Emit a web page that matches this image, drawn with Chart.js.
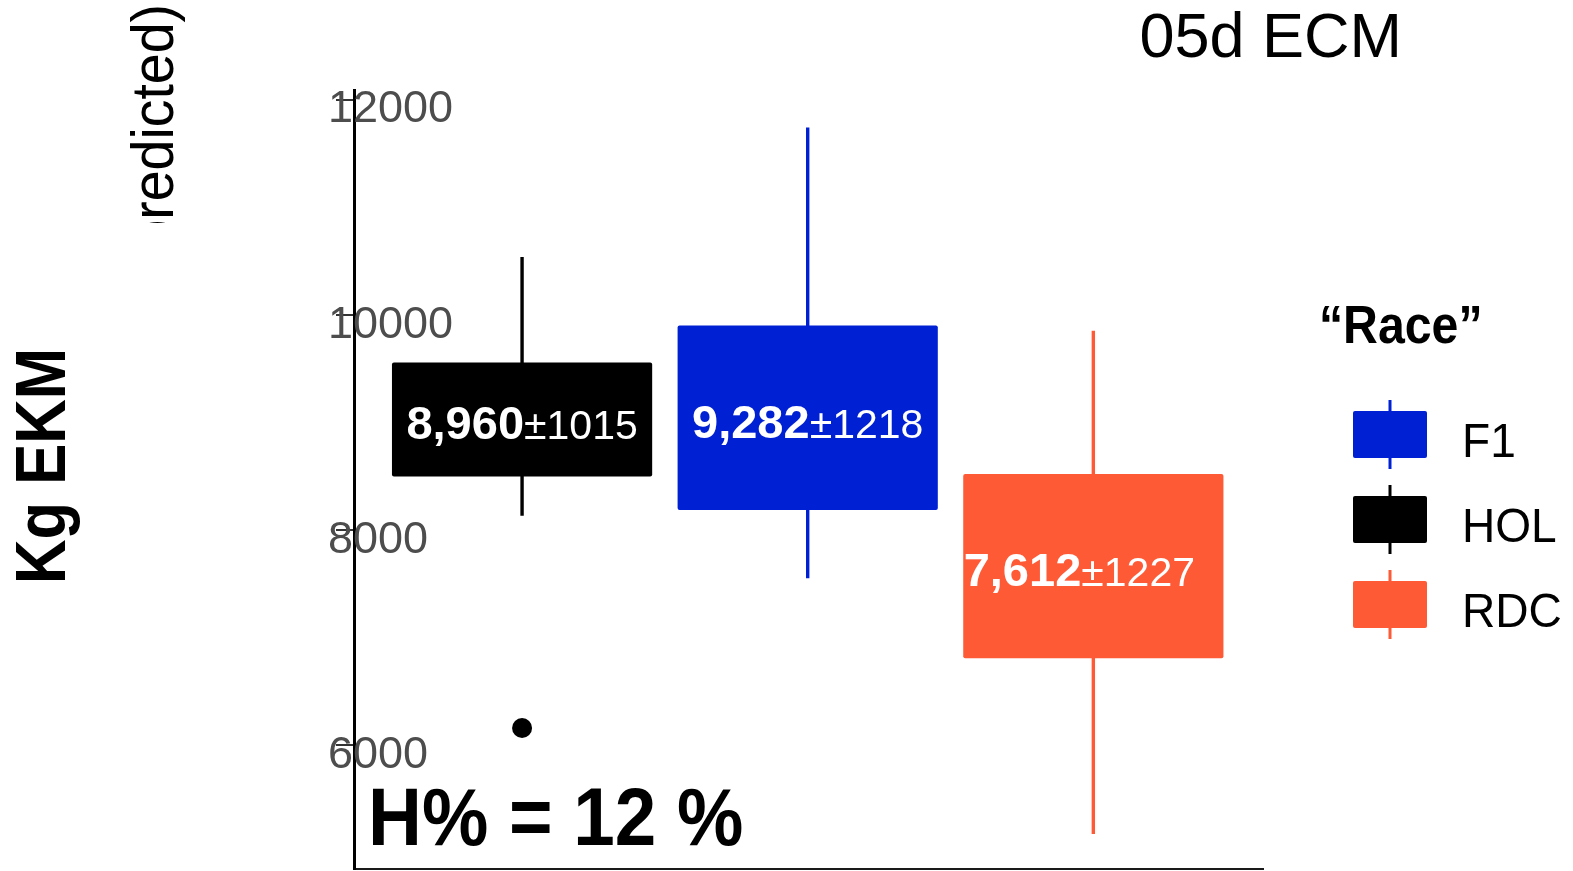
<!DOCTYPE html>
<html>
<head>
<meta charset="utf-8">
<title>305d ECM by race</title>
<script src="https://cdn.jsdelivr.net/npm/chart.js@4.4.1/dist/chart.umd.min.js"></script>
<style>
  html, body { margin: 0; padding: 0; background: #fff; }
  canvas { display: block; }
</style>
</head>
<body>
<canvas id="ecm-chart" width="1573" height="871"></canvas>
<script>
// values
const races = ['HOL', 'F1', 'RDC']
const raceColors = ['#000000', '#0020D4', '#FF5A36']
const whiskerLow = [8135, 7554, 5178]
const boxLow = [8500, 8189, 6810]
const boxHigh = [9561, 9905, 8523]
const whiskerHigh = [10541, 11745, 9855]
const means = [8960, 9282, 7612]
const sds = [1015, 1218, 1227]
const outlierRace = ['HOL']
const outlierValue = [6163]
const yTicks = [6000, 8000, 10000, 12000]
const heritability = 12

const FONT = "'Liberation Sans', Arial, Helvetica, sans-serif"
Chart.defaults.font.family = FONT

// the RDC label sits a bit left of its box in the original
const labelNudge = [0, 0, -14]

function drawText(ctx, str, o) {
  ctx.save()
  if (o.clip) {
    ctx.beginPath()
    ctx.rect(o.clip[0], o.clip[1], o.clip[2], o.clip[3])
    ctx.clip()
  }
  ctx.translate(o.x, o.y)
  if (o.rotate) ctx.rotate(o.rotate)
  ctx.scale(o.sx || 1, 1)
  ctx.font = o.font + ' ' + FONT
  ctx.fillStyle = o.color || '#000'
  ctx.textAlign = o.align || 'left'
  ctx.textBaseline = 'alphabetic'
  ctx.fillText(str, 0, 0)
  ctx.restore()
}

const boxLabels = {
  id: 'boxLabels',
  afterDatasetsDraw(chart) {
    const ctx = chart.ctx
    const meta = chart.getDatasetMeta(1)
    meta.data.forEach((bar, i) => {
      const {x, y, base, width} = bar.getProps(['x', 'y', 'base', 'width'], true)
      const top = Math.min(y, base), bottom = Math.max(y, base)
      const strong = means[i].toLocaleString('en-US')
      const weak = '±' + sds[i]
      ctx.save()
      ctx.beginPath()
      ctx.rect(x - width / 2, top, width, bottom - top)
      ctx.clip()
      ctx.fillStyle = '#ffffff'
      ctx.textBaseline = 'alphabetic'
      ctx.textAlign = 'left'
      ctx.font = 'bold 47px ' + FONT
      const w1 = ctx.measureText(strong).width
      ctx.font = '41px ' + FONT
      const w2 = ctx.measureText(weak).width
      const left = x + labelNudge[i] - (w1 + w2) / 2
      const baseline = (top + bottom) / 2 + 20
      ctx.font = 'bold 47px ' + FONT
      ctx.fillText(strong, left, baseline)
      ctx.font = '41px ' + FONT
      ctx.fillText(weak, left + w1, baseline)
      ctx.restore()
    })
  }
}

const annotations = {
  id: 'annotations',
  afterDraw(chart) {
    const ctx = chart.ctx

    // axis title and the cut-off pieces of the original layout
    drawText(ctx, 'Kg EKM', {x: 65, y: 466, font: 'bold 70px', sx: 0.88, align: 'center', rotate: -Math.PI / 2})
    drawText(ctx, '(predicted)', {x: 173, y: 4, font: '59px', sx: 0.94, align: 'right', rotate: -Math.PI / 2, clip: [0, 0, 400, 223]})
    drawText(ctx, '305d ECM', {x: 1402, y: 57, font: '63px', align: 'right', clip: [1140, 0, 433, 120]})
    drawText(ctx, 'H% = ' + heritability + ' %', {x: 368, y: 845, font: 'bold 82px', sx: 0.91})

    // legend, sorted like the original
    drawText(ctx, '\u201CRace\u201D', {x: 1319, y: 343, font: 'bold 53px', sx: 0.91})
    const order = races.map((r, i) => i).sort((a, b) => races[a].localeCompare(races[b]))
    order.forEach((idx, k) => {
      const top = 411 + k * 85
      ctx.save()
      ctx.fillStyle = raceColors[idx]
      ctx.strokeStyle = raceColors[idx]
      ctx.lineWidth = 3
      ctx.beginPath()
      ctx.moveTo(1390, top - 11)
      ctx.lineTo(1390, top + 58)
      ctx.stroke()
      ctx.beginPath()
      ctx.roundRect(1353, top, 74, 47, 2)
      ctx.fill()
      ctx.restore()
      drawText(ctx, races[idx], {x: 1462, y: top + 46, font: '48px', sx: 0.96})
    })
  }
}

const whiskerData = races.map((r, i) => ({x: i + 1, y: [whiskerLow[i], whiskerHigh[i]]}))
const boxData = races.map((r, i) => ({x: i + 1, y: [boxLow[i], boxHigh[i]]}))
const outlierData = outlierRace.map((r, i) => ({x: races.indexOf(r) + 1, y: outlierValue[i]}))

new Chart(document.getElementById('ecm-chart'), {
  type: 'bar',
  data: {
    datasets: [{
      label: 'whiskers',
      data: whiskerData,
      backgroundColor: raceColors,
      maxBarThickness: 3.4,
      grouped: false,
      order: 2
    }, {
      label: 'boxes',
      data: boxData,
      backgroundColor: raceColors,
      borderRadius: 2,
      borderSkipped: false,
      barPercentage: 0.911,
      categoryPercentage: 1,
      grouped: false,
      order: 1
    }, {
      type: 'scatter',
      label: 'outliers',
      data: outlierData,
      backgroundColor: '#000000',
      borderWidth: 0,
      pointRadius: 10,
      order: 0
    }]
  },
  options: {
    responsive: false,
    animation: false,
    layout: {autoPadding: false, padding: {left: 336, top: 90, right: 310, bottom: 2}},
    plugins: {
      legend: {display: false},
      tooltip: {enabled: false}
    },
    scales: {
      x: {
        type: 'linear',
        min: 0.4116,
        max: 3.594,
        offset: false,
        afterBuildTicks: (axis) => { axis.ticks = races.map((r, i) => ({value: i + 1})) },
        ticks: {display: false},
        grid: {display: false, drawTicks: false, offset: false},
        border: {display: true, color: '#1a1a1a', width: 2}
      },
      y: {
        type: 'linear',
        min: 4852,
        max: 12093,
        beginAtZero: false,
        afterBuildTicks: (axis) => { axis.ticks = yTicks.map(v => ({value: v})) },
        afterFit: (axis) => {
          axis.width = 18
          axis.paddingTop = 0
          axis.paddingBottom = 0
        },
        ticks: {
          mirror: true,
          padding: -26,
          labelOffset: 10,
          color: '#4D4D4D',
          font: {size: 45},
          callback: (v) => String(v)
        },
        grid: {
          display: true,
          drawOnChartArea: false,
          drawTicks: true,
          tickLength: 18,
          color: '#333333',
          lineWidth: 2
        },
        border: {display: true, color: '#000000', width: 3}
      }
    }
  },
  plugins: [boxLabels, annotations]
})
</script>
</body>
</html>
